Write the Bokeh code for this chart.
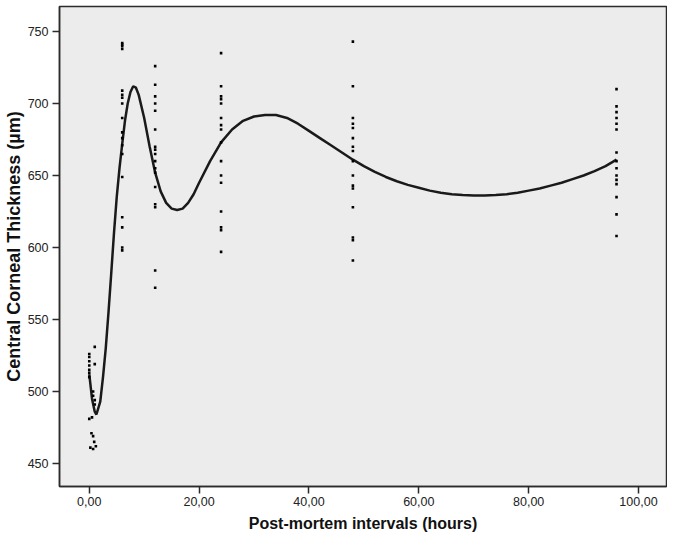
from bokeh.plotting import figure
from bokeh.embed import file_html
from bokeh.resources import INLINE
from bokeh.models import Range1d, FixedTicker

# --- data ---
t0_x = [0, 0, 0, 0, 0, 0, 0, 0.7, 0.7, 1, 1, 1, 1, 0.5, 0.4, 0.7, 0.2, 0.7, 1.2, 0, 0.9]
t0_y = [526, 524, 521, 518, 515, 513, 510, 500, 497, 531, 519, 494, 491, 482, 471, 469, 461, 460, 462, 481, 465]

t6_y = [742, 741, 740, 738, 709, 706, 704, 700, 690, 680, 676, 671, 665, 649, 621, 614, 600, 598]
t12_y = [726, 713, 705, 700, 695, 682, 670, 668, 665, 660, 655, 652, 642, 630, 628, 584, 572]
t24_y = [735, 712, 705, 703, 700, 690, 685, 682, 673, 660, 650, 645, 625, 614, 612, 597]
t48_y = [743, 712, 690, 686, 683, 676, 670, 667, 660, 650, 643, 641, 628, 607, 605, 591]
t96_y = [710, 698, 694, 690, 686, 682, 666, 660, 655, 650, 647, 644, 635, 623, 608]

curve_x = [0, 0.5, 1, 1.3, 2, 2.5, 3, 3.5, 4, 4.5, 5, 5.5, 6, 6.5, 7, 7.5, 8, 8.5, 9, 10, 11, 12,
           13, 14, 15, 16, 17, 18, 19, 20, 22, 24, 26, 28, 30, 32, 34, 36, 38, 40, 42, 44, 46,
           48, 50, 52, 54, 56, 58, 60, 62, 64, 66, 68, 70, 72, 74, 76, 78, 80, 82, 84, 86, 88,
           90, 92, 94, 96]
curve_y = [512, 495, 486, 484, 493, 510, 530, 555, 582, 610, 635, 655, 672, 688, 700, 708, 712, 711,
           706, 690, 670, 652, 639, 631, 627, 626, 627, 631, 637, 645, 660, 673, 682, 688, 691, 692,
           692, 690, 686, 681, 676, 671, 666, 661, 656.5, 652.5, 649, 646, 643.5, 641.5, 639.5,
           638, 637, 636.5, 636.2, 636.2, 636.5, 637, 638, 639.5, 641, 643, 645, 647.5, 650,
           653, 656.5, 661]

x_ticks = [0, 20, 40, 60, 80, 100]
x_tick_labels = ["0,00", "20,00", "40,00", "60,00", "80,00", "100,00"]
y_ticks = [450, 500, 550, 600, 650, 700, 750]

xs = list(t0_x)
ys = list(t0_y)
for hx, arr in [(6, t6_y), (12, t12_y), (24, t24_y), (48, t48_y), (96, t96_y)]:
    xs += [hx] * len(arr)
    ys += arr

FONT = "Liberation Sans"

p = figure(width=667, height=536, output_backend="svg", toolbar_location=None,
           x_range=Range1d(-5.42, 105.1), y_range=Range1d(434, 767.4),
           min_border_left=54, min_border_right=1, min_border_top=6, min_border_bottom=50)

p.background_fill_color = "#ececec"
p.border_fill_color = "white"
p.outline_line_color = "#2b2b2b"
p.outline_line_width = 1.5
p.grid.visible = False

p.line(curve_x, curve_y, line_color="#1a1a1a", line_width=2.5)
p.scatter(xs, ys, marker="square", size=2.6, fill_color="black", line_color="black", line_width=0)

for ax in (p.xaxis[0], p.yaxis[0]):
    ax.axis_line_color = "#2b2b2b"
    ax.axis_line_width = 1.5
    ax.major_tick_line_color = "#2b2b2b"
    ax.major_tick_line_width = 1.5
    ax.major_tick_in = 0
    ax.major_tick_out = 7
    ax.minor_tick_line_color = None
    ax.major_label_text_font = FONT
    ax.major_label_text_font_size = "12.5px"
    ax.major_label_text_color = "#222222"
    ax.axis_label_text_font = FONT
    ax.axis_label_text_font_style = "bold"
    ax.axis_label_text_color = "#111111"

p.xaxis.axis_label_text_font_size = "16px"
p.yaxis.axis_label_text_font_size = "18px"
p.xaxis.ticker = FixedTicker(ticks=x_ticks)
p.xaxis.major_label_overrides = {t: l for t, l in zip(x_ticks, x_tick_labels)}
p.yaxis.ticker = FixedTicker(ticks=y_ticks)
p.xaxis.axis_label = "Post-mortem intervals (hours)"
p.yaxis.axis_label = "Central Corneal Thickness (µm)"
p.xaxis.major_label_standoff = 3
p.xaxis.axis_label_standoff = 6
p.yaxis.major_label_standoff = 4
p.yaxis.axis_label_standoff = 1

open("out.html", "w").write(file_html(p, INLINE))
